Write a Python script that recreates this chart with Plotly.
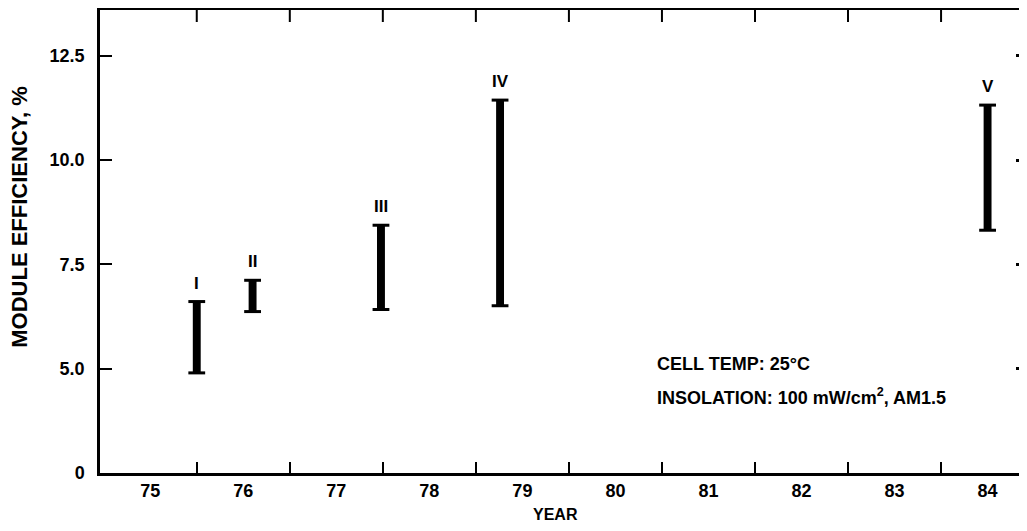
import plotly.graph_objects as go

# ---- data ----
phases = ["I", "II", "III", "IV", "V"]
year_pos = [75.5, 76.1, 77.48, 78.76, 84.0]
eff_low = [4.9, 6.37, 6.42, 6.51, 8.32]
eff_high = [6.61, 7.12, 8.44, 11.44, 11.32]

year_ticks = [75, 76, 77, 78, 79, 80, 81, 82, 83, 84]
year_labels = ["75", "76", "77", "78", "79", "80", "81", "82", "83", "84"]
year_bounds = [75.5, 76.5, 77.5, 78.5, 79.5, 80.5, 81.5, 82.5, 83.5]
y_ticks = [2.5, 5.0, 7.5, 10.0, 12.5]
y_labels = ["0", "5.0", "7.5", "10.0", "12.5"]

FONT = "Liberation Sans, Arial, sans-serif"
PLOT_H = 463  # plot area height in px

fig = go.Figure()

fig.add_trace(go.Bar(
    x=year_pos,
    y=[h - l for h, l in zip(eff_high, eff_low)],
    base=eff_low,
    width=0.085,
    marker=dict(color="black", line=dict(width=0)),
    showlegend=False,
    hoverinfo="skip",
))
for ends in (eff_high, eff_low):
    fig.add_trace(go.Scatter(
        x=year_pos, y=ends, mode="markers",
        marker=dict(symbol="line-ew", size=12, line=dict(width=3, color="black")),
        showlegend=False, hoverinfo="skip",
    ))
# invisible trace to carry the right-hand tick axis and bottom label axis
fig.add_trace(go.Scatter(x=[year_pos[0]], y=[eff_low[0]], xaxis="x2", yaxis="y2",
                         mode="markers", marker=dict(opacity=0),
                         showlegend=False, hoverinfo="skip"))

# top-edge tick marks at the year boundaries, on a hidden 0..1 overlay axis
tx, ty = [], []
for b in year_bounds:
    tx += [b, b, None]
    ty += [1.0, 1.0 - 12 / PLOT_H, None]
fig.add_trace(go.Scatter(x=tx, y=ty, xaxis="x", yaxis="y3", mode="lines",
                         line=dict(color="black", width=2),
                         showlegend=False, hoverinfo="skip", cliponaxis=False))

annotations = [
    dict(x=xp, y=yh, text=ph, xref="x", yref="y", showarrow=False,
         xanchor="center", yanchor="bottom", yshift=7,
         font=dict(family=FONT, size=17, color="black", weight="bold"))
    for xp, yh, ph in zip(year_pos, eff_high, phases)
]
annotations += [
    dict(text="MODULE EFFICIENCY, %", textangle=-90,
         xref="paper", yref="paper", x=-0.087, y=0.553,
         xanchor="center", yanchor="middle", showarrow=False,
         font=dict(family=FONT, size=22, color="black", weight="bold")),
    dict(text="YEAR", xref="paper", yref="paper", x=0.4935, y=-0.09,
         xanchor="center", yanchor="middle", showarrow=False,
         font=dict(family=FONT, size=16, color="black", weight="bold")),
    dict(text="CELL TEMP: 25°C", xref="paper", yref="paper",
         x=(655 - 100) / 922, y=(473 - 364) / PLOT_H,
         xanchor="left", yanchor="middle", showarrow=False,
         font=dict(family=FONT, size=18, color="black", weight="bold")),
    dict(text="INSOLATION: 100 mW/cm<sup>2</sup>, AM1.5", xref="paper", yref="paper",
         x=(655 - 100) / 922, y=(473 - 396) / PLOT_H,
         xanchor="left", yanchor="middle", showarrow=False,
         font=dict(family=FONT, size=18, color="black", weight="bold")),
]

# page body adds an 8px offset; figure sized so plot area spans x 100-1022, y 10-473
fig.update_layout(
    width=1019, height=523,
    margin=dict(l=92, r=5, t=2, b=58),
    paper_bgcolor="white", plot_bgcolor="white",
    font=dict(family=FONT, size=18, color="black", weight="bold"),
    xaxis=dict(
        range=[74.46, 84.37], automargin=False,
        tickvals=year_bounds, showticklabels=False,
        ticks="inside", ticklen=11, tickwidth=2, tickcolor="black",
        showgrid=False, zeroline=False,
        showline=True, linecolor="black", linewidth=2.5, mirror=True,
    ),
    xaxis2=dict(
        overlaying="x", side="bottom", matches="x", automargin=False,
        tickvals=year_ticks, ticktext=year_labels, ticks="",
        ticklabelstandoff=5,
        showgrid=False, zeroline=False, showline=False,
        tickfont=dict(family=FONT, size=18, color="black", weight="bold"),
    ),
    yaxis=dict(
        range=[2.5, 13.6], automargin=False,
        tickvals=y_ticks, ticktext=y_labels,
        ticks="inside", ticklen=12, tickwidth=2, tickcolor="black",
        ticklabelstandoff=9,
        showgrid=False, zeroline=False,
        showline=True, linecolor="black", linewidth=2.5,
        tickfont=dict(family=FONT, size=18, color="black", weight="bold"),
    ),
    yaxis2=dict(
        overlaying="y", side="right", matches="y", automargin=False,
        tickvals=y_ticks[1:], showticklabels=False,
        ticks="inside", ticklen=6, tickwidth=2.5, tickcolor="black",
        showgrid=False, zeroline=False, showline=False,
    ),
    yaxis3=dict(
        overlaying="y", range=[0, 1], visible=False, automargin=False,
        showgrid=False, zeroline=False,
    ),
    annotations=annotations,
)

fig.write_html("out.html")
